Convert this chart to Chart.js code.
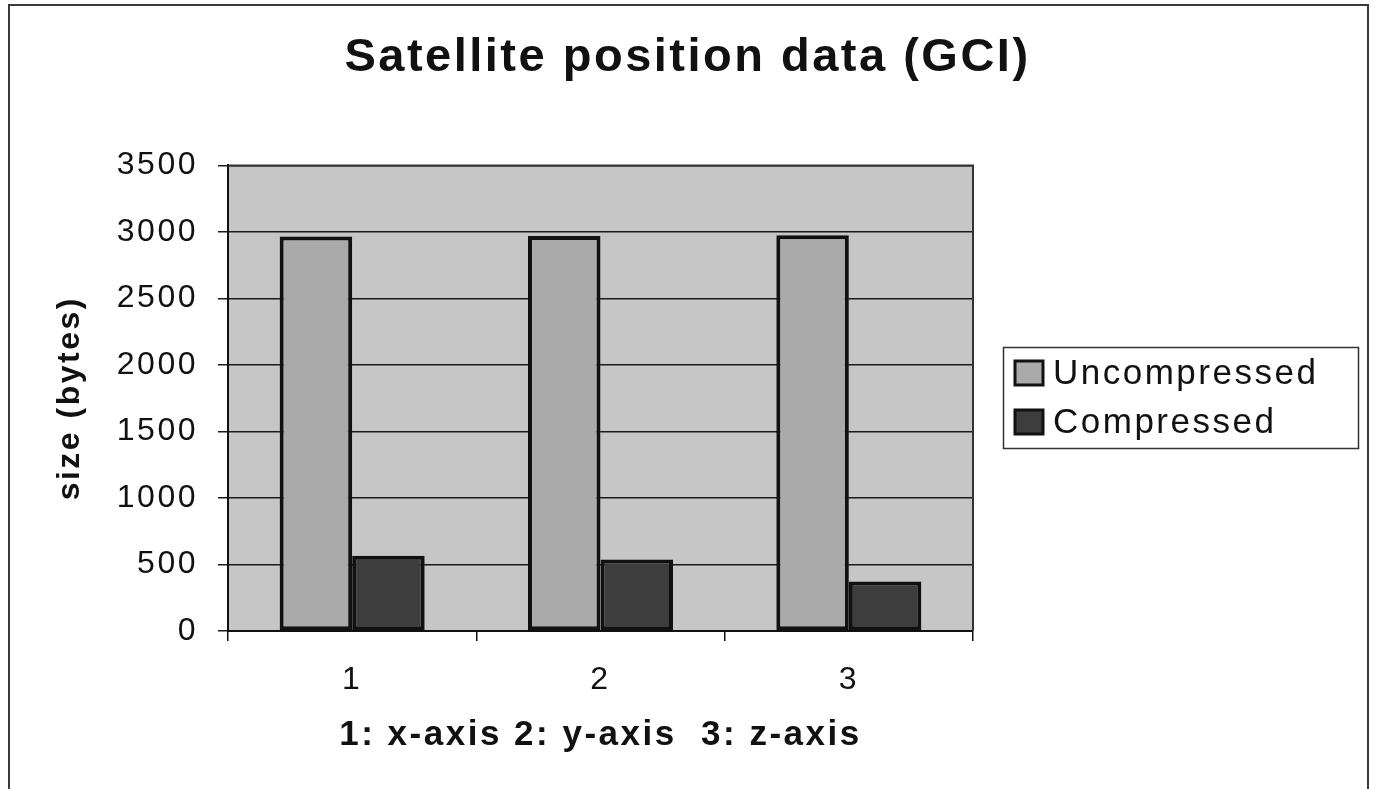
<!DOCTYPE html>
<html>
<head>
<meta charset="utf-8">
<title>Satellite position data (GCI)</title>
<script src="https://cdn.jsdelivr.net/npm/chart.js@4.4.1/dist/chart.umd.min.js"></script>
<style>
  html, body { margin: 0; padding: 0; background: #fff; }
  canvas { display: block; }
</style>
</head>
<body>
<canvas id="satChart" width="1375" height="789"></canvas>
<script>
// data (1: x-axis, 2: y-axis, 3: z-axis)
var categories = ['1', '2', '3'];
var uncompressed = [2965, 2970, 2975];
var compressed = [565, 538, 373];
var yTicks = [0, 500, 1000, 1500, 2000, 2500, 3000, 3500];

var FONT = '"Liberation Sans", Arial, Helvetica, sans-serif';

// white page, outer frame, grey plot background, plot border and legend box
var framePlugin = {
    id: 'frame',
    beforeDraw: function(chart) {
        var ctx = chart.ctx, a = chart.chartArea;
        ctx.letterSpacing = '2.5px';
        ctx.save();
        ctx.fillStyle = '#ffffff';
        ctx.fillRect(0, 0, chart.width, chart.height);
        ctx.strokeStyle = '#3a3a3a';
        ctx.lineWidth = 2;
        ctx.strokeRect(9, 5, 1359, 800);
        ctx.fillStyle = '#c6c6c6';
        ctx.fillRect(a.left, a.top, a.right - a.left, a.bottom - a.top);
        ctx.restore();
    },
    afterDraw: function(chart) {
        var ctx = chart.ctx, a = chart.chartArea;
        ctx.save();
        ctx.strokeStyle = '#333';
        ctx.lineWidth = 2;
        ctx.beginPath();
        ctx.moveTo(a.left, a.top);
        ctx.lineTo(a.right, a.top);
        ctx.lineTo(a.right, a.bottom);
        ctx.stroke();

        // legend
        ctx.lineWidth = 1.5;
        ctx.strokeRect(1003.5, 347.5, 355, 101);
        ctx.font = '35px ' + FONT;
        ctx.textBaseline = 'middle';
        ctx.textAlign = 'left';
        chart.data.datasets.forEach(function(ds, i) {
            var y = 373 + i * 49;
            ctx.fillStyle = ds.backgroundColor;
            ctx.fillRect(1015, y - 12, 28, 24);
            ctx.lineWidth = 3;
            ctx.strokeStyle = '#111';
            ctx.strokeRect(1015, y - 12, 28, 24);
            ctx.fillStyle = '#111';
            ctx.fillText(ds.label, 1053, y + 1);
        });
        ctx.restore();
    }
};

var ctx = document.getElementById('satChart').getContext('2d');
var satChart = new Chart(ctx, {
    type: 'bar',
    data: {
        labels: categories,
        datasets: [{
            label: 'Uncompressed',
            data: uncompressed,
            backgroundColor: '#aaaaaa',
            borderColor: '#111',
            borderWidth: 4,
            borderSkipped: false,
            categoryPercentage: 0.584,
            barPercentage: 1.0
        }, {
            label: 'Compressed',
            data: compressed,
            backgroundColor: '#3d3d3d',
            borderColor: '#111',
            borderWidth: 4,
            borderSkipped: false,
            categoryPercentage: 0.584,
            barPercentage: 1.0
        }]
    },
    options: {
        responsive: false,
        animation: false,
        layout: { padding: 0 },
        plugins: {
            legend: { display: false },
            tooltip: { enabled: false },
            title: {
                display: true,
                text: 'Satellite position data (GCI)',
                color: '#111',
                font: { family: FONT, size: 47, weight: 'bold' },
                padding: { top: 30, bottom: 79 }
            }
        },
        scales: {
            x: {
                grid: { offset: true, drawOnChartArea: false, drawTicks: true, tickLength: 10, color: '#111', lineWidth: 1.5 },
                border: { color: '#111', width: 2 },
                ticks: { color: '#111', font: { family: FONT, size: 32 }, padding: 20 },
                title: {
                    display: true,
                    text: '1: x-axis 2: y-axis  3: z-axis',
                    color: '#111',
                    font: { family: FONT, size: 35, weight: 'bold' },
                    padding: { top: 0, bottom: 33 }
                },
                afterFit: function(scale) { scale.height = 158; }
            },
            y: {
                min: 0,
                max: 3500,
                grid: { color: '#1a1a1a', lineWidth: 1.5, drawTicks: true, tickLength: 10 },
                border: { color: '#111', width: 2 },
                ticks: {
                    color: '#111',
                    font: { family: FONT, size: 32 },
                    padding: 20,
                    callback: function(v) { return String(v); }
                },
                afterBuildTicks: function(axis) {
                    axis.ticks = yTicks.map(function(v) { return { value: v }; });
                },
                title: {
                    display: true,
                    text: 'size (bytes)',
                    color: '#111',
                    font: { family: FONT, size: 32, weight: 'bold' },
                    padding: { top: 51, bottom: 0 }
                },
                afterFit: function(scale) { scale.width = 228; }
            },
            // empty right-hand axis that keeps room for the legend
            gap: {
                type: 'linear',
                position: 'right',
                display: true,
                grid: { display: false },
                ticks: { display: false },
                border: { display: false },
                afterFit: function(scale) { scale.width = 402; }
            }
        }
    },
    plugins: [framePlugin]
});
</script>
</body>
</html>
